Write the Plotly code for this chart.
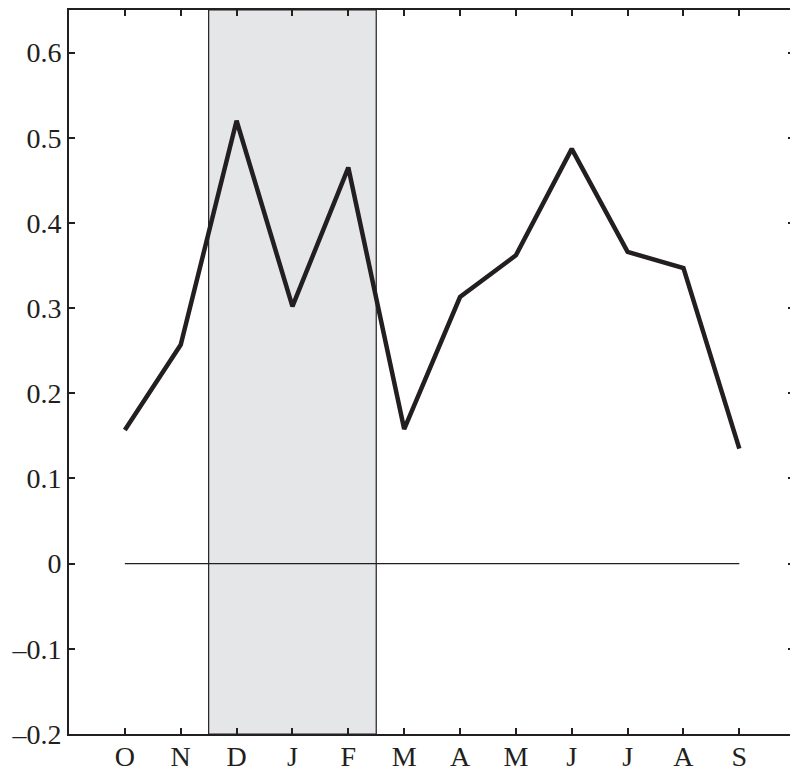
import plotly.graph_objects as go

months = ["O", "N", "D", "J", "F", "M", "A", "M", "J", "J", "A", "S"]
month_pos = list(range(1, 13))
values = [0.157, 0.257, 0.520, 0.302, 0.465, 0.158, 0.313, 0.362, 0.487, 0.366, 0.347, 0.135]
zero_line = [0.0] * 12
y_ticks = [-0.2, -0.1, 0, 0.1, 0.2, 0.3, 0.4, 0.5, 0.6]
y_tick_text = ["\u20130.2", "\u20130.1", "0", "0.1", "0.2", "0.3", "0.4", "0.5", "0.6"]
shade_start = 2.5   # between N and D
shade_end = 5.5     # between F and M

x_range = [0, 12.907]
y_range = [-0.2, 0.65]

fig = go.Figure()

fig.add_vrect(x0=shade_start, x1=shade_end, fillcolor="#e5e6e8", opacity=1,
              line=dict(color="#231f20", width=1.2), layer="below")

fig.add_trace(go.Scatter(x=month_pos, y=zero_line, mode="lines",
                         line=dict(color="#231f20", width=1.2), hoverinfo="skip",
                         showlegend=False))
fig.add_trace(go.Scatter(x=month_pos, y=values, mode="lines",
                         line=dict(color="#231f20", width=4.5),
                         showlegend=False))
# invisible trace to anchor mirrored axes
fig.add_trace(go.Scatter(x=[month_pos[0]], y=[0], xaxis="x2", yaxis="y2",
                         mode="markers", marker=dict(opacity=0), hoverinfo="skip",
                         showlegend=False))

axis_font = dict(family="Liberation Serif, Times New Roman, serif", size=28, color="#231f20")

fig.update_layout(
    width=790, height=771,
    margin=dict(l=69, r=0, t=10, b=37, autoexpand=False),
    paper_bgcolor="white", plot_bgcolor="white",
    font=axis_font,
    xaxis=dict(range=x_range, tickvals=month_pos, ticktext=months,
               ticks="inside", ticklen=6, tickwidth=1.5, tickcolor="#231f20",
               showline=True, linecolor="#231f20", linewidth=2, automargin=False,
               ticklabelstandoff=-4,
               showgrid=False, zeroline=False, tickfont=axis_font),
    xaxis2=dict(range=x_range, overlaying="x", side="top", tickvals=month_pos,
                ticks="inside", ticklen=6, tickwidth=1.5, tickcolor="#231f20",
                showticklabels=False, showline=True, linecolor="#231f20",
                linewidth=2, showgrid=False, zeroline=False, automargin=False),
    yaxis=dict(range=y_range, tickvals=y_ticks, ticktext=y_tick_text,
               ticks="inside", ticklen=6, tickwidth=1.5, tickcolor="#231f20",
               showline=True, linecolor="#231f20", linewidth=2, automargin=False,
               showgrid=False, zeroline=False, tickfont=axis_font),
    yaxis2=dict(range=y_range, overlaying="y", side="right", tickvals=y_ticks,
                ticks="inside", ticklen=2, tickwidth=1.5, tickcolor="#231f20",
                showticklabels=False, showline=False, showgrid=False,
                zeroline=False, automargin=False),
)

fig.write_html("out.html")
